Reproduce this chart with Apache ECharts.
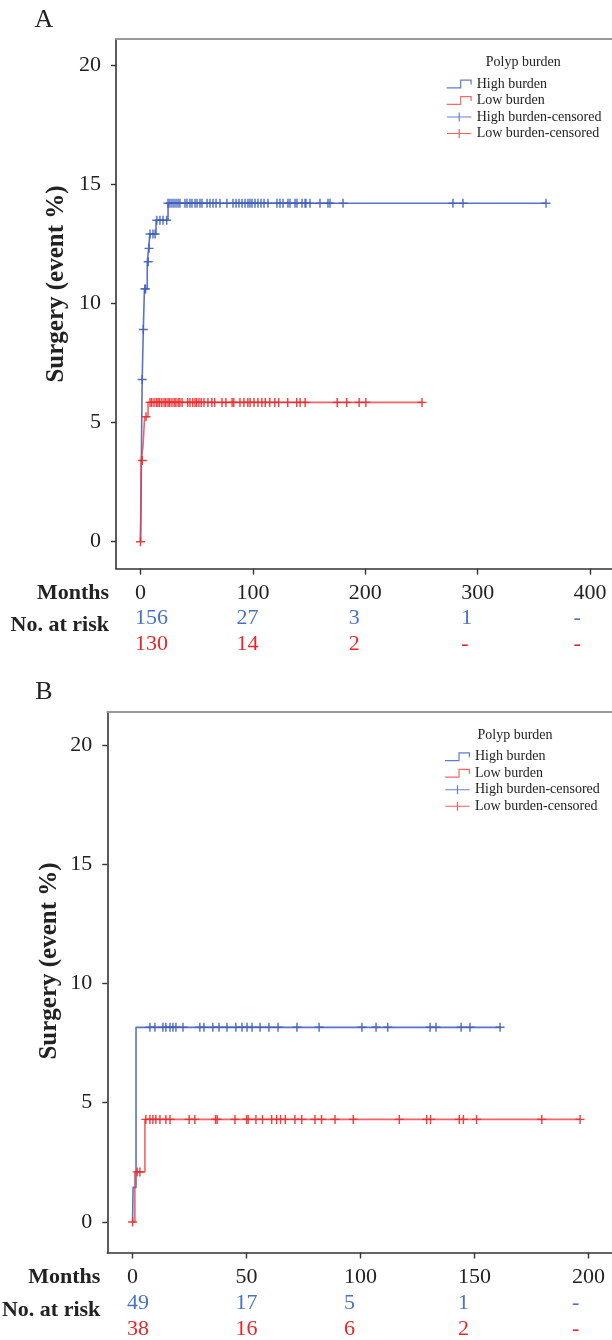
<!DOCTYPE html>
<html><head><meta charset="utf-8">
<script src="https://cdn.jsdelivr.net/npm/echarts@6/dist/echarts.min.js"></script>
<style>html,body{margin:0;padding:0;background:#fff}#c{width:612px;height:1340px}</style>
</head><body><div id="c"></div>
<script>
// ---------- DATA ----------
const seriesNames = ['High burden', 'Low burden', 'High burden-censored', 'Low burden-censored'];
const legendTitle = 'Polyp burden';
const yTicks = [0, 5, 10, 15, 20];
const aXTicks = [0, 100, 200, 300, 400];
const bXTicks = [0, 50, 100, 150, 200];

// Panel A: Kaplan-Meier steps [months, event %]
const aHighSteps = [[0,0],[0.5,1.6],[1,4.6],[1.5,6.8],[2.5,8.9],[3.5,10.6],[6,11.74],[7.3,12.3],[8.3,12.9],[13.8,13.48],[24.5,14.19],[360.8,14.19]];
const aLowSteps = [[0,0],[0.5,3.4],[2.2,4.0],[3.7,5.24],[6.7,5.84],[250.5,5.84]];
const aHighCensorEarly = [[1.5,6.8],[2.5,8.9],[3.8,10.6],[4.5,10.6],[6.9,11.74],[7.6,12.3],[8.5,12.9],[11.1,12.9],[13,12.9],[14.5,13.48],[17.3,13.48],[20,13.48],[23.3,13.48]];
const aHighCensorPlateau = [24.5,26.2,28,29.8,31.6,33.4,35.1,39.6,41.4,44,45.8,48.5,50.3,52.9,54.7,59.2,61.8,64.5,67.2,70.7,76.9,82.3,85,87.6,90.3,93,95.6,97.4,99.2,101.9,104.5,107.2,109.9,113.4,121.4,124.1,126.8,131.2,133,137.5,139.2,143.7,146.4,147.2,150.8,159.7,166.8,168.6,180.2,278,286.9,360.8];
const aHighPlateau = 14.19;
const aLowCensorEarly = [[0,0],[1.6,3.4],[4.9,5.24]];
const aLowCensorPlateau = [8.5,10,12,14,15.5,17,19,21,22.5,24.5,26,28,30,31.5,33.5,35,37,42,44,46.5,48.5,50,52,54,56.5,60,63.5,66,72.5,76,81.5,83,88.5,92,95.5,97.5,101,104.5,108,111,115,119.5,123,131,139,142,146.5,175,183.5,194.5,200.5,250.5];
const aLowPlateau = 5.84;
const aRiskHigh = ['156', '27', '3', '1', '-'];
const aRiskLow = ['130', '14', '2', '-', '-'];

// Panel B
const bHighSteps = [[0,0],[0.2,1.45],[1.5,8.16],[161.5,8.16]];
const bLowSteps = [[0,0],[1.0,2.1],[5.4,4.3],[196.3,4.3]];
const bHighCensorPlateau = [7.6,9.8,13.3,14.6,16.4,17.7,19,22.1,29.5,31.3,35.2,37.9,41.4,45.3,48,50.2,52.4,55.9,59.8,63.8,72.1,81.8,100.6,106.8,111.9,130.5,133.1,144.1,148,161.2];
const bHighPlateau = 8.16;
const bLowCensorEarly = [[0,0],[2.0,2.1],[3.2,2.1]];
const bLowCensorPlateau = [5.8,7.6,8.9,10.2,12,14.6,16.4,24.8,27.3,36.4,37.1,44.9,50,50.7,54.1,57,61,63.2,64.9,67,71.2,74.2,80,82.9,88.8,96.8,117,129,130.7,143.3,145.1,150.9,179.5,196.3];
const bLowPlateau = 4.3;
const bRiskHigh = ['49', '17', '5', '1', '-'];
const bRiskLow = ['38', '16', '6', '2', '-'];

// ---------- STYLE ----------
const FONT = 'Liberation Serif';
const BLUE = '#3f5fbf', BLUE_LINE = 'rgba(60,90,190,0.85)', BLUE_TXT = '#4a72c4';
const RED = '#ee2a2a', RED_LINE = 'rgba(240,60,60,0.8)', RED_TXT = '#e8262a';
const TXT = '#222';
const CROSS = 'path://M4.2,0H5.8V4.2H10V5.8H5.8V10H4.2V5.8H0V4.2H4.2Z';
const STEP_ICON = 'path://M0,7.8H13.4V0H25V5H23.8V1.2H14.6V9H0Z';
const CENS_ICON = 'path://M0,4H11.9V0H13.1V4H25V5.2H13.1V9.2H11.9V5.2H0Z';

const P = {
  A: {grid:{left:116, top:39, width:496, height:529.6}, xmin:-21.8, xmax:419.5, ymin:-1.13, ymax:21.08,
      xt:aXTicks, label:[44,20], letter:'A', yname:[57,284], legend:[446.7,75.75], ltitle:[523.3,62.7],
      rows:[593,618,644]},
  B: {grid:{left:107.3, top:712, width:504.7, height:540.5}, xmin:-11.1, xmax:210.3, ymin:-1.28, ymax:21.38,
      xt:bXTicks, label:[44,692], letter:'B', yname:[50,961], legend:[445,748.5], ltitle:[515,735],
      rows:[1277,1303,1329]}
};

function pairs(times, level){ return times.map(t => [t, level]); }

const chart = echarts.init(document.getElementById('c'), null, {renderer:'canvas'});

function axisX(p, gi){
  return {gridIndex:gi, type:'value', min:p.xmin, max:p.xmax, position:'bottom',
    axisLine:{show:true, onZero:false, lineStyle:{color:'#333', width:1.6}},
    axisTick:{show:true, customValues:p.xt, length:6, lineStyle:{color:'#333', width:1.4}},
    axisLabel:{show:false, customValues:p.xt},
    splitLine:{show:false}};
}
function axisXTop(p, gi){
  return {gridIndex:gi, type:'value', min:p.xmin, max:p.xmax, position:'top',
    axisLine:{show:true, onZero:false, lineStyle:{color:'#999', width:2}},
    axisTick:{show:false}, axisLabel:{show:false}, splitLine:{show:false}};
}
function axisY(p, gi){
  return {gridIndex:gi, type:'value', min:p.ymin, max:p.ymax,
    axisLine:{show:true, onZero:false, lineStyle:{color:'#333', width:1.6}},
    axisTick:{show:true, customValues:yTicks, length:5, lineStyle:{color:'#333', width:1.4}},
    axisLabel:{show:true, customValues:yTicks, margin:15, fontFamily:FONT, fontSize:22, color:TXT},
    splitLine:{show:false}};
}
function km(name, data, color, gi){
  return {name, type:'line', step:'end', data, xAxisIndex:gi, yAxisIndex:gi, showSymbol:false,
    symbol:'none', lineStyle:{color, width:1.6}, itemStyle:{color}, z:2, silent:true, animation:false};
}
function cens(name, data, color, gi){
  return {name, type:'scatter', data, xAxisIndex:gi, yAxisIndex:gi, symbol:CROSS, symbolSize:9,
    itemStyle:{color, opacity:0.9}, z:3, silent:true, animation:false};
}
function legend(p){
  return {orient:'vertical', left:p.legend[0], top:p.legend[1], padding:0, itemGap:0,
    itemWidth:25, itemHeight:9, selectedMode:false,
    textStyle:{fontFamily:FONT, fontSize:14, color:TXT, lineHeight:16.5},
    data:[
      {name:seriesNames[0], icon:STEP_ICON, itemStyle:{color:'rgba(70,100,200,0.85)'}},
      {name:seriesNames[1], icon:STEP_ICON, itemStyle:{color:'rgba(240,80,80,0.85)'}},
      {name:seriesNames[2], icon:CENS_ICON, itemStyle:{color:'rgba(70,100,200,0.9)'}},
      {name:seriesNames[3], icon:CENS_ICON, itemStyle:{color:'rgba(240,60,60,0.9)'}}
    ]};
}

const option = {
  backgroundColor:'#fff',
  animation:false,
  grid:[Object.assign({show:false}, P.A.grid), Object.assign({show:false}, P.B.grid)],
  xAxis:[axisX(P.A,0), axisX(P.B,1), axisXTop(P.A,0), axisXTop(P.B,1)],
  yAxis:[axisY(P.A,0), axisY(P.B,1)],
  legend:[legend(P.A), legend(P.B)],
  series:[
    km(seriesNames[0], aHighSteps, BLUE_LINE, 0),
    km(seriesNames[1], aLowSteps, RED_LINE, 0),
    cens(seriesNames[2], aHighCensorEarly.concat(pairs(aHighCensorPlateau, aHighPlateau)), BLUE, 0),
    cens(seriesNames[3], aLowCensorEarly.concat(pairs(aLowCensorPlateau, aLowPlateau)), RED, 0),
    km(seriesNames[0], bHighSteps, BLUE_LINE, 1),
    km(seriesNames[1], bLowSteps, RED_LINE, 1),
    cens(seriesNames[2], pairs(bHighCensorPlateau, bHighPlateau), BLUE, 1),
    cens(seriesNames[3], bLowCensorEarly.concat(pairs(bLowCensorPlateau, bLowPlateau)), RED, 1)
  ]
};
chart.setOption(option);

// ---------- text: panel letters, axis titles, legend titles, risk tables ----------
const ctx = document.createElement('canvas').getContext('2d');
ctx.font = '22px "' + FONT + '"';
function txt(x, y, s, o){
  return {type:'text', x, y, silent:true, z:10,
    style:Object.assign({text:s, fontFamily:FONT, fontSize:22, fill:TXT, align:'center', verticalAlign:'middle'}, o||{})};
}
const g = [];
[['A',0,aRiskHigh,aRiskLow],['B',1,bRiskHigh,bRiskLow]].forEach(([k, gi, rh, rl]) => {
  const p = P[k];
  g.push(txt(p.label[0], p.label[1], p.letter, {fontSize:26}));
  g.push(Object.assign(txt(p.yname[0], p.yname[1], 'Surgery (event %)', {fontSize:25, fontWeight:'bold'}), {rotation:Math.PI/2}));
  g.push(txt(p.ltitle[0], p.ltitle[1], legendTitle, {fontSize:14}));
  const axisLeft = p.grid.left;
  g.push(txt(axisLeft - 7, p.rows[0], 'Months', {align:'right', fontWeight:'bold'}));
  g.push(txt(axisLeft - 7, (p.rows[1] + p.rows[2]) / 2 - 6, 'No. at risk', {align:'right', fontWeight:'bold'}));
  p.xt.forEach((v, i) => {
    const px = chart.convertToPixel({xAxisIndex:gi}, v);
    const lab = String(v);
    const w = ctx.measureText(lab).width;
    const lx = px - w / 2;
    g.push(txt(lx, p.rows[0], lab, {align:'left'}));
    g.push(txt(lx, p.rows[1], rh[i], {align:'left', fill:BLUE_TXT}));
    g.push(txt(lx, p.rows[2], rl[i], {align:'left', fill:RED_TXT}));
  });
});
chart.setOption({graphic:{elements:g}});
</script></body></html>
